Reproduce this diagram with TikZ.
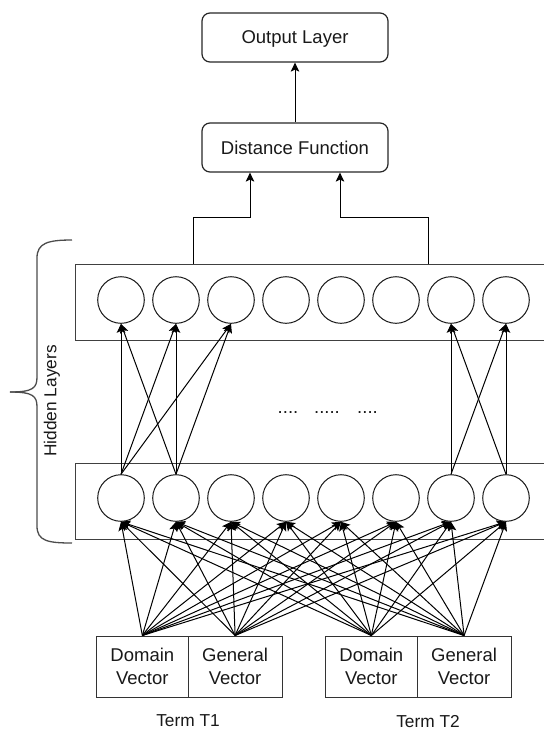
\documentclass[tikz,border=0pt]{standalone}
\usepackage{fontspec}
\setmainfont{Liberation Sans}
\usetikzlibrary{arrows.meta,calc}
\begin{document}
\begin{tikzpicture}[x=1pt,y=-1pt,
  lbl/.style={font=\fontsize{18.5}{23.4}\selectfont, text=black!90},
  small/.style={font=\fontsize{17.3}{20}\selectfont, text=black!90},
  rbox/.style={draw=black!85, line width=1.2pt, rounded corners=8pt, minimum width=186pt, minimum height=49pt, inner sep=0pt, lbl, text depth=0pt},
  hbox/.style={draw=black!75, line width=1.4pt, minimum width=490pt, minimum height=76pt, inner sep=0pt, anchor=north west},
  neuron/.style={draw=black!90, line width=1pt, circle, minimum size=46.6pt, inner sep=0pt},
  vbox/.style={draw=black!80, line width=1.2pt, minimum height=61pt, inner sep=0pt, anchor=north west, align=center, lbl},
  arr/.style={draw=black, line width=1pt, -{Stealth[length=9pt,width=8.5pt,inset=2pt]}},
  brace/.style={draw=black!70, line width=1.3pt},
  dots/.style={lbl, anchor=base, inner sep=0pt},
]
\useasboundingbox (0,0) rectangle (544,732);

% top boxes
\node[rbox] (out) at (295,37.5) {Output Layer};
\node[rbox] (df) at (295,147.5) {Distance Function};

% hidden layer boxes
\node[hbox] (h2) at (75,264) {};
\node[hbox] (h1) at (75,463) {};

% neurons
\foreach \i in {1,...,8}{
  \node[neuron] (t\i) at ({121+55*(\i-1)},300) {};
  \node[neuron] (b\i) at ({121+55*(\i-1)},498) {};
}

% dots
\node[dots] (d1) at (288,413) {....};
\node[dots] (d2) at (327,413) {.....};
\node[dots] (d3) at (367.5,413) {....};

% input vector boxes
\node[vbox, minimum width=91.5pt] (dv1) at (96,635.5) {Domain\\Vector};
\node[vbox, minimum width=94pt] (gv1) at (187.5,635.5) {General\\Vector};
\node[vbox, minimum width=91.5pt] (dv2) at (325,635.5) {Domain\\Vector};
\node[vbox, minimum width=94pt] (gv2) at (416.5,635.5) {General\\Vector};

\node[small, text depth=0pt] (term1) at (188,721) {Term T1};
\node[small, text depth=0pt] (term2) at (428,721) {Term T2};

% brace and label
\draw[brace] (72,240) .. controls (48,240) and (37,243) .. (37,258) -- (37,377) .. controls (37,388) and (33,392) .. (10,392);
\draw[brace] (10,392) .. controls (33,392) and (37,396) .. (37,407) -- (37,526) .. controls (37,541) and (48,543) .. (72,543);
\node[small, rotate=90, text depth=0pt] (hl) at (50,401) {Hidden Layers};

% connectors: input to first hidden layer
\foreach \s in {dv1,gv1,dv2,gv2}{
  \foreach \i in {1,...,8}{
    \draw[arr] (\s.north) -- (b\i.south);
  }
}

% first hidden to second hidden
\foreach \a/\b in {1/1,1/2,1/3,2/1,2/2,2/3,7/7,7/8,8/7,8/8}{
  \draw[arr] (b\a.north) -- (t\b.south);
}

% hidden to distance function
\coordinate (h2a) at (193,264);
\coordinate (h2b) at (428,264);
\draw[arr] (h2a) -- ++(0,-47) -| ($(df.south)+(-45,0)$);
\draw[arr] (h2b) -- ++(0,-47) -| ($(df.south)+(45,0)$);

% distance function to output
\draw[arr] (df.north) -- (out.south);
\end{tikzpicture}
\end{document}
